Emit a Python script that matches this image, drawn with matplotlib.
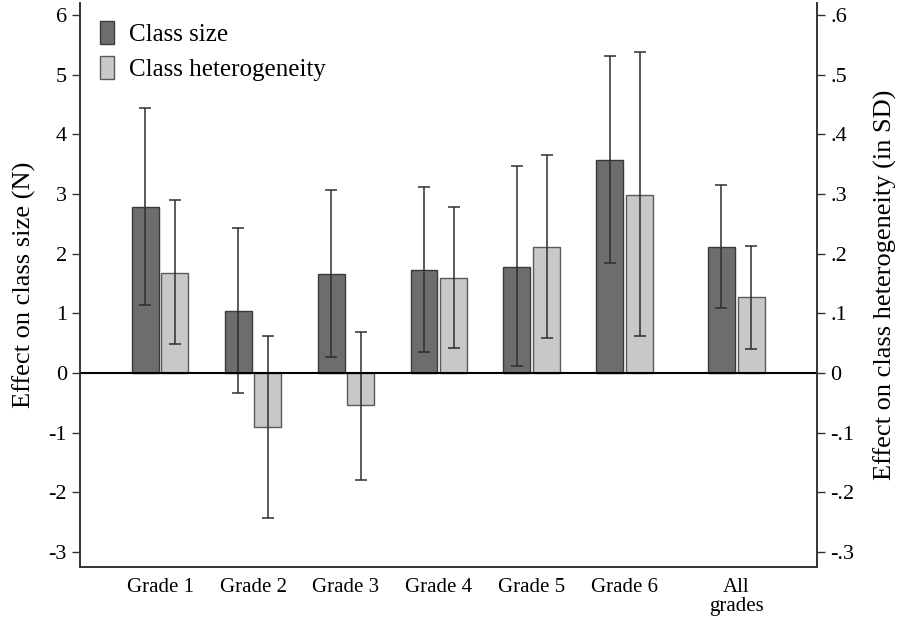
import numpy as np
import matplotlib
matplotlib.use("Agg")
import matplotlib.pyplot as plt
from matplotlib.patches import Patch

plt.rcParams['font.family'] = ['Liberation Serif', 'DejaVu Serif']

grades = ["Grade 1", "Grade 2", "Grade 3", "Grade 4", "Grade 5", "Grade 6", "All\ngrades"]
xpos = [1, 2, 3, 4, 5, 6, 7.2]

# class size effect (N), with 95% CI
size_eff = [2.79, 1.04, 1.66, 1.73, 1.78, 3.57, 2.11]
size_lo = [1.14, -0.33, 0.27, 0.36, 0.12, 1.85, 1.09]
size_hi = [4.45, 2.43, 3.06, 3.11, 3.47, 5.32, 3.15]

# class heterogeneity effect (SD), with 95% CI
het_eff = [0.168, -0.090, -0.054, 0.159, 0.211, 0.299, 0.127]
het_lo = [0.048, -0.243, -0.179, 0.042, 0.058, 0.062, 0.041]
het_hi = [0.290, 0.062, 0.069, 0.279, 0.365, 0.538, 0.213]

dark = "#6d6d6d"
light = "#c8c8c8"
edge = "#3a3a3a"

fig = plt.figure(figsize=(9.01, 6.19), dpi=100)
ax = fig.add_axes([0.0888, 0.084, 0.818, 0.911])
ax2 = ax.twinx()

x = np.array(xpos)
w = 0.29
off = 0.16
scale = 10.0

ax.bar(x - off, size_eff, width=w, color=dark, edgecolor=edge, linewidth=1.0, zorder=2)
ax.bar(x + off, np.array(het_eff) * scale, width=w, color=light, edgecolor="#5a5a5a", linewidth=1.0, zorder=2)

se = np.array(size_eff)
ax.errorbar(x - off, se, yerr=[se - np.array(size_lo), np.array(size_hi) - se],
            fmt="none", ecolor="#2e2e2e", elinewidth=1.1, capsize=4, capthick=1.1, zorder=3)
he = np.array(het_eff) * scale
ax.errorbar(x + off, he, yerr=[he - np.array(het_lo) * scale, np.array(het_hi) * scale - he],
            fmt="none", ecolor="#2e2e2e", elinewidth=1.1, capsize=4, capthick=1.1, zorder=3)

ax.axhline(0, color="black", linewidth=1.5, zorder=4)

ax.set_xlim(0.138, 8.07)
ax.set_ylim(-3.25, 6.2)
ax2.set_ylim(-0.325, 0.62)

ax.set_xticks(xpos)
ax.set_xticklabels(grades, fontsize=15, linespacing=1.0)
ax.tick_params(axis="x", length=0, pad=8)

ax.set_yticks(range(-3, 7))
ax.set_yticklabels([str(v) for v in range(-3, 7)], fontsize=16)
ax.tick_params(axis="y", length=6, width=1.0, direction="out", color="#333333")

rticks = [-0.3, -0.2, -0.1, 0, 0.1, 0.2, 0.3, 0.4, 0.5, 0.6]
def fmt(v):
    if abs(v) < 1e-9:
        return "0"
    s = "%.1f" % v
    return s.replace("0.", ".")
ax2.set_yticks(rticks)
ax2.set_yticklabels([fmt(v) for v in rticks], fontsize=16)
ax2.tick_params(axis="y", length=6, width=1.0, direction="out", color="#333333")

for a in (ax, ax2):
    a.spines["top"].set_visible(False)
    for s in ("left", "right", "bottom"):
        a.spines[s].set_linewidth(1.2)
        a.spines[s].set_color("#333333")

ax.set_ylabel("Effect on class size (N)", fontsize=19, labelpad=9)
ax2.set_ylabel("Effect on class heterogeneity (in SD)", fontsize=19, labelpad=14)

handles = [Patch(facecolor=dark, edgecolor=edge), Patch(facecolor=light, edgecolor="#5a5a5a")]
ax.legend(handles, ["Class size", "Class heterogeneity"], loc="upper left", frameon=False,
          fontsize=18, handlelength=0.56, handleheight=1.05, handletextpad=0.6,
          labelspacing=0.4, borderaxespad=0, borderpad=0, bbox_to_anchor=(0.027, 0.968))

fig.savefig("out.png", dpi=100)
